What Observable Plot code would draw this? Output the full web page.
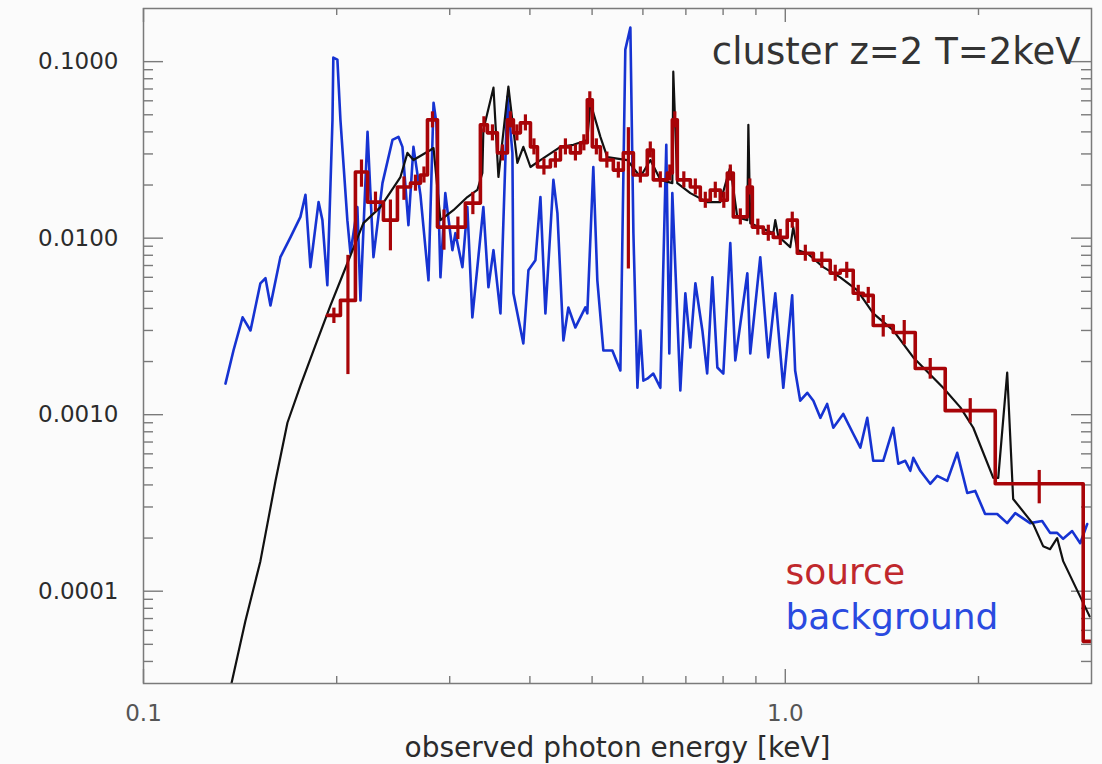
<!DOCTYPE html>
<html><head><meta charset="utf-8">
<script src="https://cdn.jsdelivr.net/npm/d3@7"></script>
<script src="https://cdn.jsdelivr.net/npm/@observablehq/plot@0.6"></script>
<style>
html,body{margin:0;padding:0;background:#fbfbfb;}
#chart{width:1102px;height:764px;overflow:hidden;}
</style></head><body><div id="chart"></div>
<script>
// ---- data (energy in keV, flux) ----
const modelSpectrum = [
[0.1371,3.0e-5],[0.1441,6.76e-5],[0.1521,1.48e-4],[0.1606,4.22e-4],[0.1676,9.0e-4],[0.1756,1.46e-3],
[0.1853,2.47e-3],[0.1956,4.16e-3],[0.2078,7.21e-3],[0.2201,0.01216],[0.234,0.015],[0.2514,0.0222],
[0.2578,0.0304],[0.2634,0.0277],[0.28,0.0316],[0.2831,0.0324],[0.2902,0.01265],[0.304,0.0144],
[0.3196,0.0171],[0.3313,0.01875],[0.3373,0.0234],[0.3385,0.0411],[0.351,0.0712],[0.3573,0.0222],
[0.3703,0.0721],[0.3824,0.0267],[0.3907,0.0329],[0.4008,0.0253],[0.4154,0.0277],[0.4463,0.0329],
[0.4676,0.0338],[0.4915,0.036],[0.497,0.0585],[0.5151,0.0375],[0.528,0.0288],[0.5674,0.0277],
[0.5945,0.0222],[0.6163,0.0277],[0.6387,0.0214],[0.6668,0.0205],[0.6691,0.0877],[0.6788,0.0205],
[0.7113,0.018],[0.7556,0.016],[0.792,0.016],[0.8209,0.0253],[0.8418,0.01315],[0.8727,0.01265],
[0.8759,0.0439],[0.8819,0.01216],[0.9579,0.01067],[0.9647,0.01265],[0.9752,0.01026],[1.018,0.00889],
[1.029,0.01155],[1.044,0.00855],[1.082,0.00822],[1.146,0.00685],[1.218,0.006],[1.294,0.00507],
[1.371,0.00375],[1.473,0.003],[1.583,0.00211],[1.762,0.00142],[1.874,0.0011],[1.963,8.43e-4],
[2.109,4.39e-4],[2.147,4.39e-4],[2.217,1.73e-3],[2.265,3.33e-4],[2.434,2.4e-4],[2.522,1.8e-4],
[2.586,1.73e-4],[2.652,2.0e-4],[2.71,1.48e-4],[2.98,7.2e-5]
];
const backgroundSpectrum = [
[0.1342,0.0015],[0.1381,0.00231],[0.1427,0.00356],[0.1468,0.003],[0.1521,0.00555],[0.1549,0.00593],
[0.1577,0.00416],[0.1634,0.0078],[0.1694,0.0101],[0.1756,0.0132],[0.1788,0.0176],[0.182,0.00685],
[0.1874,0.016],[0.19,0.01265],[0.1934,0.00541],[0.197,0.0468],[0.1976,0.1054],[0.2005,0.1027],
[0.2027,0.0468],[0.2078,0.01265],[0.2101,0.00822],[0.2154,0.015],[0.2178,0.00444],[0.2234,0.04],
[0.2282,0.0078],[0.2357,0.0205],[0.2443,0.036],[0.2496,0.0375],[0.2532,0.0329],[0.2587,0.01186],
[0.2634,0.0329],[0.2701,0.0176],[0.278,0.00577],[0.2831,0.0585],[0.286,0.045],[0.2902,0.006],
[0.2953,0.018],[0.3029,0.00855],[0.3062,0.01067],[0.314,0.00685],[0.3196,0.015],[0.3254,0.00356],
[0.3385,0.015],[0.3447,0.00527],[0.351,0.00855],[0.3599,0.00375],[0.369,0.0633],[0.3757,0.0304],
[0.377,0.00487],[0.3907,0.00253],[0.3979,0.00658],[0.408,0.0075],[0.4154,0.0171],[0.4229,0.00375],
[0.4352,0.0214],[0.4415,0.01387],[0.4511,0.00263],[0.4592,0.00405],[0.4709,0.00312],[0.4881,0.00405],
[0.4915,0.00375],[0.5022,0.0253],[0.5095,0.00577],[0.5206,0.00231],[0.5377,0.00231],[0.5534,0.00178],
[0.5633,0.117],[0.5736,0.156],[0.5799,0.01067],[0.5883,0.00142],[0.5945,0.003],[0.601,0.00156],
[0.6095,0.0016],[0.6228,0.00171],[0.6387,0.00142],[0.6525,0.0338],[0.6596,0.00222],[0.6668,0.018],
[0.6862,0.00137],[0.6987,0.00487],[0.7113,0.0024],[0.7243,0.00555],[0.7427,0.003],[0.7556,0.00171],
[0.7698,0.006],[0.7837,0.00185],[0.8007,0.00171],[0.8209,0.00937],[0.8358,0.00203],[0.8727,0.00633],
[0.8819,0.00222],[0.9141,0.0078],[0.9408,0.00211],[0.9647,0.00487],[0.9929,0.00142],[1.025,0.00474],
[1.036,0.00178],[1.055,0.0012],[1.082,0.00133],[1.106,0.0012],[1.134,0.00096],[1.162,0.00115],
[1.188,0.000843],[1.231,0.00101],[1.276,0.00078],[1.309,0.00065],[1.342,0.00096],[1.371,0.000548],
[1.421,0.000548],[1.473,0.000843],[1.5,0.000527],[1.538,0.000548],[1.566,0.000481],[1.583,0.00057],
[1.623,0.000481],[1.682,0.000406],[1.725,0.00045],[1.788,0.000422],[1.853,0.000608],[1.921,0.00036],
[1.977,0.00037],[2.048,0.000274],[2.139,0.000274],[2.217,0.000243],[2.282,0.000277],[2.407,0.000243],
[2.513,0.00025],[2.586,0.000214],[2.652,0.000214],[2.71,0.000198],[2.799,0.000219],[2.881,0.000187],
[2.954,0.00024]
];
// source histogram: [bin low edge keV, flux, fractional error down, fractional error up]
const sourceBins = [
[0.1934,0.00365,0.1,0.1],[0.2027,0.00444,0.62,0.8],[0.2139,0.0237,0.18,0.17],[0.2234,0.016,0.12,0.14],
[0.2365,0.01265,0.33,0.3],[0.2487,0.0195,0.16,0.14],[0.2606,0.0205,0.1,0.11],[0.2701,0.0228,0.1,0.11],
[0.277,0.0468,0.1,0.11],[0.2871,0.01155,0.26,0.25],[0.3008,0.01155,0.15,0.14],[0.3173,0.0158,0.14,0.15],
[0.3349,0.0439,0.1,0.11],[0.3435,0.0395,0.1,0.11],[0.356,0.0304,0.1,0.11],[0.369,0.0468,0.1,0.11],
[0.377,0.0395,0.1,0.11],[0.3866,0.045,0.1,0.11],[0.4008,0.0329,0.1,0.11],[0.411,0.0253,0.1,0.11],
[0.4305,0.0277,0.1,0.11],[0.4463,0.0329,0.1,0.11],[0.4626,0.0304,0.1,0.11],[0.4795,0.0347,0.1,0.11],
[0.4915,0.0608,0.1,0.11],[0.5004,0.0329,0.1,0.11],[0.5151,0.0277,0.1,0.11],[0.5396,0.0243,0.1,0.11],
[0.5593,0.0304,0.78,0.39],[0.5799,0.0228,0.1,0.11],[0.6095,0.0316,0.1,0.11],[0.6228,0.0214,0.1,0.11],
[0.6549,0.0234,0.1,0.11],[0.6668,0.0468,0.1,0.11],[0.6788,0.0214,0.1,0.11],[0.7113,0.0195,0.1,0.11],
[0.7372,0.0164,0.1,0.11],[0.7641,0.0187,0.1,0.11],[0.792,0.0164,0.1,0.11],[0.8122,0.0234,0.1,0.11],
[0.8299,0.0132,0.1,0.11],[0.8727,0.0195,0.1,0.11],[0.8885,0.01155,0.1,0.11],[0.9242,0.01067,0.1,0.11],
[0.9579,0.0101,0.1,0.11],[1.007,0.01265,0.1,0.11],[1.044,0.00822,0.1,0.11],[1.106,0.0075,0.1,0.11],
[1.175,0.00633,0.1,0.11],[1.218,0.00658,0.1,0.11],[1.276,0.00487,0.1,0.11],[1.323,0.00474,0.1,0.11],
[1.371,0.0032,0.14,0.14],[1.473,0.00292,0.15,0.17],[1.594,0.001826,0.13,0.14],[1.775,0.001054,0.15,0.17],
[2.124,0.000406,0.23,0.19],[2.912,0.000052,0,0]
];
const sourceLastEdge = 3.0;
const yMajorTicks = [1e-4, 1e-3, 1e-2, 1e-1];
const yMinorTicks = [4e-5,5e-5,6e-5,7e-5,8e-5,9e-5,2e-4,3e-4,4e-4,5e-4,6e-4,7e-4,8e-4,9e-4,
  2e-3,3e-3,4e-3,5e-3,6e-3,7e-3,8e-3,9e-3,0.02,0.03,0.04,0.05,0.06,0.07,0.08,0.09];
const xMajorTicks = [0.1, 1.0];
const xMinorTicks = [0.2,0.3,0.4,0.5,0.6,0.7,0.8,0.9,2.0];
const titleText = "cluster z=2 T=2keV";
const xLabel = "observed photon energy [keV]";
const legendItems = ["source", "background"];

// ---- build ----
const W = 1102, H = 764;
const mL = 143, mR = 11, mT = 8, mB = 81;
const pw = W - mL - mR, ph = H - mT - mB;
const red = "#a80408", redText = "#c0282c", blue = "#1633d2", blueText = "#2a4ae0", black = "#111111", gray = "#7a7a7a", ink = "#2b2b2b";

const model = modelSpectrum.map(([e, f]) => ({e, f}));
const bg = backgroundSpectrum.map(([e, f]) => ({e, f}));
const bins = sourceBins.map(([e, f, dn, up], i) => {
  const hi = i + 1 < sourceBins.length ? sourceBins[i + 1][0] : sourceLastEdge;
  return {e, hi, f, c: Math.sqrt(e * hi), lo: f * (1 - dn), up: f * (1 + up), dn};
});
const steps = bins.map(b => ({e: b.e, f: b.f})).concat([{e: sourceLastEdge, f: bins[bins.length - 1].f}]);

const chart = Plot.plot({
  width: W, height: H,
  marginLeft: mL, marginRight: mR, marginTop: mT, marginBottom: mB,
  style: {background: "#fbfbfb", fontFamily: "DejaVu Sans", color: ink},
  x: {type: "log", domain: [0.1, 3.0]},
  y: {type: "log", domain: [3e-5, 0.2]},
  marks: [
    // tick marks on all four sides (pointing inward)
    Plot.tickY(yMajorTicks, {y: d => d, stroke: gray, strokeWidth: 1.4, insetRight: pw - 20}),
    Plot.tickY(yMinorTicks, {y: d => d, stroke: gray, strokeWidth: 1.4, insetRight: pw - 10}),
    Plot.tickY(yMajorTicks, {y: d => d, stroke: gray, strokeWidth: 1.4, insetLeft: pw - 20}),
    Plot.tickY(yMinorTicks, {y: d => d, stroke: gray, strokeWidth: 1.4, insetLeft: pw - 10}),
    Plot.tickX(xMajorTicks, {x: d => d, stroke: gray, strokeWidth: 1.4, insetTop: ph - 14}),
    Plot.tickX(xMinorTicks, {x: d => d, stroke: gray, strokeWidth: 1.4, insetTop: ph - 7}),
    Plot.tickX(xMajorTicks, {x: d => d, stroke: gray, strokeWidth: 1.4, insetBottom: ph - 14}),
    Plot.tickX(xMinorTicks, {x: d => d, stroke: gray, strokeWidth: 1.4, insetBottom: ph - 7}),
    Plot.axisY(yMajorTicks, {tickSize: 0, tickPadding: 25, tickFormat: d3.format(".4f"), label: null, fontSize: 23, fill: ink}),
    Plot.axisX(xMajorTicks, {tickSize: 0, tickPadding: 21, tickFormat: d3.format(".1f"), label: null, fontSize: 23, fill: "#555"}),
    Plot.line(bg, {x: "e", y: "f", stroke: blue, strokeWidth: 2.6, clip: true}),
    Plot.line(model, {x: "e", y: "f", stroke: black, strokeWidth: 2.2, clip: true}),
    Plot.line(steps, {x: "e", y: "f", curve: "step-after", stroke: red, strokeWidth: 3.6, clip: true}),
    Plot.ruleX(bins.filter(b => b.dn > 0), {x: "c", y1: "lo", y2: "up", stroke: red, strokeWidth: 3.2, clip: true}),
    Plot.frame({stroke: gray, strokeWidth: 1.5}),
    Plot.text([titleText], {frameAnchor: "top-right", dx: -11, dy: 55, lineAnchor: "bottom", textAnchor: "end", fontSize: 37, fill: "#333"}),
    Plot.text([legendItems[0]], {frameAnchor: "top-left", dx: 642, dy: 575, lineAnchor: "bottom", textAnchor: "start", fontSize: 36, fill: redText}),
    Plot.text([legendItems[1]], {frameAnchor: "top-left", dx: 642, dy: 620, lineAnchor: "bottom", textAnchor: "start", fontSize: 36, fill: blueText}),
    Plot.text([xLabel], {frameAnchor: "bottom", dy: 73, lineAnchor: "bottom", fontSize: 28, fill: ink})
  ]
});
document.getElementById("chart").appendChild(chart);
</script></body></html>
